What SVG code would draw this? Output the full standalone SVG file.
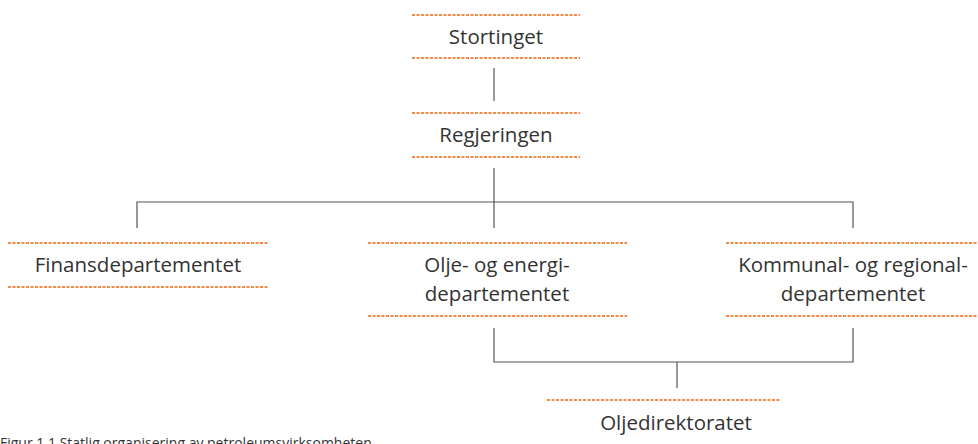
<svg xmlns="http://www.w3.org/2000/svg" width="978" height="444" viewBox="0 0 978 444">
<style>
.d{stroke:#f28a45;stroke-width:2;stroke-dasharray:3 1.5;fill:none}
.t{font-family:"Open Sans","Noto Sans",sans-serif;font-size:20.5px;fill:#333;text-anchor:middle}
.c{stroke:#555;stroke-width:1.2;fill:none}
</style>
<rect width="978" height="444" fill="#fff"/>
<g id="connectors">
<path class="c" d="M494 68V101"/>
<path class="c" d="M494 168V228M137 228V202H853V228"/>
<path class="c" d="M494 328V362H853V328M677 362V388"/>
</g>
<g id="stortinget">
<path class="d" d="M412 15H580M412 58H580"/>
<text class="t" x="496" y="44">Stortinget</text>
</g>
<g id="regjeringen">
<path class="d" d="M412 113H580M412 157H580"/>
<text class="t" x="496" y="142">Regjeringen</text>
</g>
<g id="finans">
<path class="d" d="M8 243H268M8 287H268"/>
<text class="t" x="138" y="272">Finansdepartementet</text>
</g>
<g id="oed">
<path class="d" d="M368 243H627M368 316H627"/>
<text class="t" x="497" y="272">Olje- og energi-</text>
<text class="t" x="497" y="301">departementet</text>
</g>
<g id="krd">
<path class="d" d="M726 243H978M726 316H978"/>
<text class="t" x="853" y="272">Kommunal- og regional-</text>
<text class="t" x="853" y="301">departementet</text>
</g>
<g id="od">
<path class="d" d="M547 400H780"/>
<text class="t" x="676" y="430">Oljedirektoratet</text>
</g>
<text x="0" y="448" style="font-family:'Open Sans','Noto Sans',sans-serif;font-size:14px;fill:#333">Figur 1.1 Statlig organisering av petroleumsvirksomheten</text>
</svg>
